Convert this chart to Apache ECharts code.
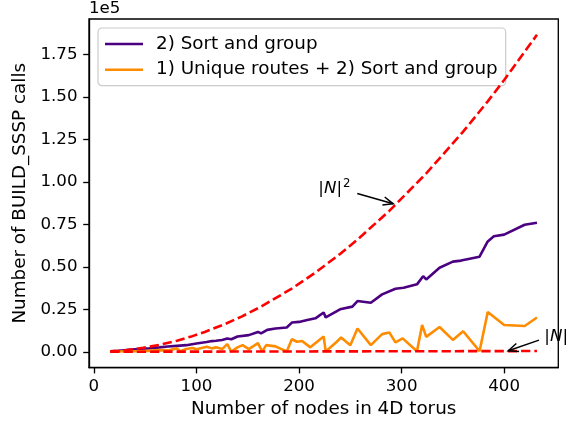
<!DOCTYPE html>
<html>
<head>
<meta charset="utf-8">
<script src="https://cdn.jsdelivr.net/npm/echarts@6/dist/echarts.min.js"></script>
<style>
html,body{margin:0;padding:0;background:#fff;}
#c{width:581px;height:423px;}
</style>
</head>
<body>
<div id="c"></div>
<script>
// ---- data ----
const seriesNames = ['2) Sort and group', '1) Unique routes + 2) Sort and group'];
const sortGroup = [
  [16,300],[24,600],[32,1000],[40,1400],[48,1700],[54,2000],[64,2600],[72,3100],[81,3500],[90,3900],
  [100,4900],[110,5800],[115,6300],[119,6500],[125,6900],[130,7800],[134,7400],[140,9000],[151,9800],
  [160,11700],[163,10800],[169,12900],[177,13700],[188,14300],[193,17200],[200,17600],[208,18700],
  [216,19700],[224,23100],[226,20200],[240,25000],[252,26600],[257,29900],[270,28900],[281,33800],
  [294,37100],[302,37700],[315,39700],[321,44500],[324,42600],[337,49500],[350,53100],[358,53700],
  [376,56000],[384,65000],[390,68000],[400,69000],[420,74800],[432,76000]
];
const uniqueSortGroup = [
  [16,16],[24,200],[32,300],[48,400],[64,1000],[72,800],[81,2000],[84,300],[90,1600],[96,2200],
  [100,1500],[110,3000],[115,2000],[119,2600],[125,1600],[130,4500],[134,134],[140,2600],[145,3900],
  [151,1600],[160,5100],[164,164],[168,3900],[177,3200],[188,188],[193,7400],[198,5900],[203,6400],
  [211,2600],[224,9000],[226,226],[236,5500],[241,8400],[250,3900],[257,13700],[270,3900],[281,10400],
  [288,11400],[294,5500],[301,7900],[315,315],[320,15800],[324,8800],[337,14600],[350,7000],
  [360,12100],[376,376],[384,23400],[400,15800],[420,15200],[432,20200]
];
const nSquared = [
  [16,256],[24,576],[32,1024],[40,1600],[48,2304],[64,4096],[81,6561],[96,9216],[108,11664],
  [128,16384],[144,20736],[162,26244],[192,36864],[216,46656],[240,57600],[256,65536],[288,82944],
  [324,104976],[360,129600],[384,147456],[400,160000],[432,186624]
];
const nLinear = [[16,16],[432,432]];
const xTicks = [0,100,200,300,400];
const yTicks = [0,25000,50000,75000,100000,125000,150000,175000];
const annoLabels = ['{n||}{i|N}{n||}{s|2}', '{n||}{i|N}{n||}'];
const annoTextPos = [[218.8,96300],[439.2,9080]];
const annoArrowFrom = [[256.8,93160],[434,6855]];
const annoArrowTo = [[291.8,87130],[404,586]];

// ---- chart ----
const FONT = 'DejaVu Sans';
const FS = 16.67;   // tick labels, annotations
const FL = 18.33;   // axis titles, legend
const chart = echarts.init(document.getElementById('c'), null, {renderer:'canvas'});
const annoData = annoLabels.map((l,i)=>[annoArrowFrom[i][0],annoArrowFrom[i][1],annoArrowTo[i][0],annoArrowTo[i][1],annoTextPos[i][0],annoTextPos[i][1],i]);

chart.setOption({
  animation:false,
  backgroundColor:'#fff',
  textStyle:{fontFamily:FONT},
  grid:{left:89,right:22.7,top:19,bottom:55.3,show:true,borderColor:'#000',borderWidth:1.33,backgroundColor:'transparent'},
  legend:{
    orient:'vertical', left:98, top:28,
    padding:[7,8,7,7], itemGap:7.7,
    itemWidth:38, itemHeight:2.5, icon:'rect',
    backgroundColor:'rgba(255,255,255,0.8)', borderColor:'#cccccc', borderWidth:1.2, borderRadius:4,
    textStyle:{fontFamily:FONT,fontSize:FL,color:'#000',padding:[0,0,0,8]},
    data:seriesNames
  },
  graphic:[{type:'text',left:89,top:0,style:{text:'1e5',font:FS+'px "DejaVu Sans"',fill:'#000'}}],
  xAxis:{
    type:'value', min:-4.8, max:452.8,
    name:'Number of nodes in 4D torus', nameLocation:'middle', nameGap:31,
    nameTextStyle:{fontFamily:FONT,fontSize:FL,color:'#000'},
    axisLine:{show:true,onZero:false,lineStyle:{color:'#000',width:1.33}},
    axisTick:{show:true,length:5.8,lineStyle:{color:'#000',width:1.33},customValues:xTicks},
    axisLabel:{fontFamily:FONT,fontSize:FS,color:'#000',margin:10.5,customValues:xTicks},
    splitLine:{show:false}
  },
  yAxis:{
    type:'value', min:-9314, max:195954,
    name:'Number of BUILD_SSSP calls', nameLocation:'middle', nameGap:51,
    nameTextStyle:{fontFamily:FONT,fontSize:FL,color:'#000'},
    axisLine:{show:true,onZero:false,lineStyle:{color:'#000',width:1.33}},
    axisTick:{show:true,length:5.8,lineStyle:{color:'#000',width:1.33},customValues:yTicks},
    axisLabel:{fontFamily:FONT,fontSize:FS,color:'#000',margin:11.5,customValues:yTicks,
      formatter:v=>(v/1e5).toFixed(2)},
    splitLine:{show:false}
  },
  series:[
    {name:seriesNames[0],type:'line',data:sortGroup,showSymbol:false,symbol:'none',
     lineStyle:{color:'#4b0082',width:2.6},itemStyle:{color:'#4b0082'},z:3},
    {name:seriesNames[1],type:'line',data:uniqueSortGroup,showSymbol:false,symbol:'none',
     lineStyle:{color:'#ff8c00',width:2.6},itemStyle:{color:'#ff8c00'},z:4},
    {name:'N2',type:'line',data:nSquared,showSymbol:false,symbol:'none',
     lineStyle:{color:'#ff0000',width:2.6,type:[9.25,4]},z:5},
    {name:'N',type:'line',data:nLinear,showSymbol:false,symbol:'none',
     lineStyle:{color:'#ff0000',width:2.6,type:[9.25,4]},z:5},
    {type:'custom',clip:false,z:6,data:annoData,
     renderItem:(params,api)=>{
       const s=api.coord([api.value(0),api.value(1)]);
       const e=api.coord([api.value(2),api.value(3)]);
       const t=api.coord([api.value(4),api.value(5)]);
       const idx=api.value(6);
       const ang=Math.atan2(e[1]-s[1],e[0]-s[0]);
       const L=10,W=4.2;
       const bx=e[0]-L*Math.cos(ang), by=e[1]-L*Math.sin(ang);
       const px=-Math.sin(ang), py=Math.cos(ang);
       return {type:'group',children:[
         {type:'line',shape:{x1:s[0],y1:s[1],x2:e[0],y2:e[1]},style:{stroke:'#000',lineWidth:1.5}},
         {type:'polyline',shape:{points:[[bx+W*px,by+W*py],[e[0],e[1]],[bx-W*px,by-W*py]]},style:{stroke:'#000',lineWidth:1.5,fill:null}},
         {type:'text',x:t[0],y:t[1],style:{text:annoLabels[idx],align:'left',verticalAlign:'middle',
           rich:{n:{fontFamily:FONT,fontSize:FS,fill:'#000'},
                 i:{fontFamily:FONT,fontSize:FS,fontStyle:'italic',fill:'#000'},
                 s:{fontFamily:FONT,fontSize:11.7,fill:'#000',verticalAlign:'top',padding:[0,0,8,1]}}}}
       ]};
     }}
  ]
});
</script>
</body>
</html>
